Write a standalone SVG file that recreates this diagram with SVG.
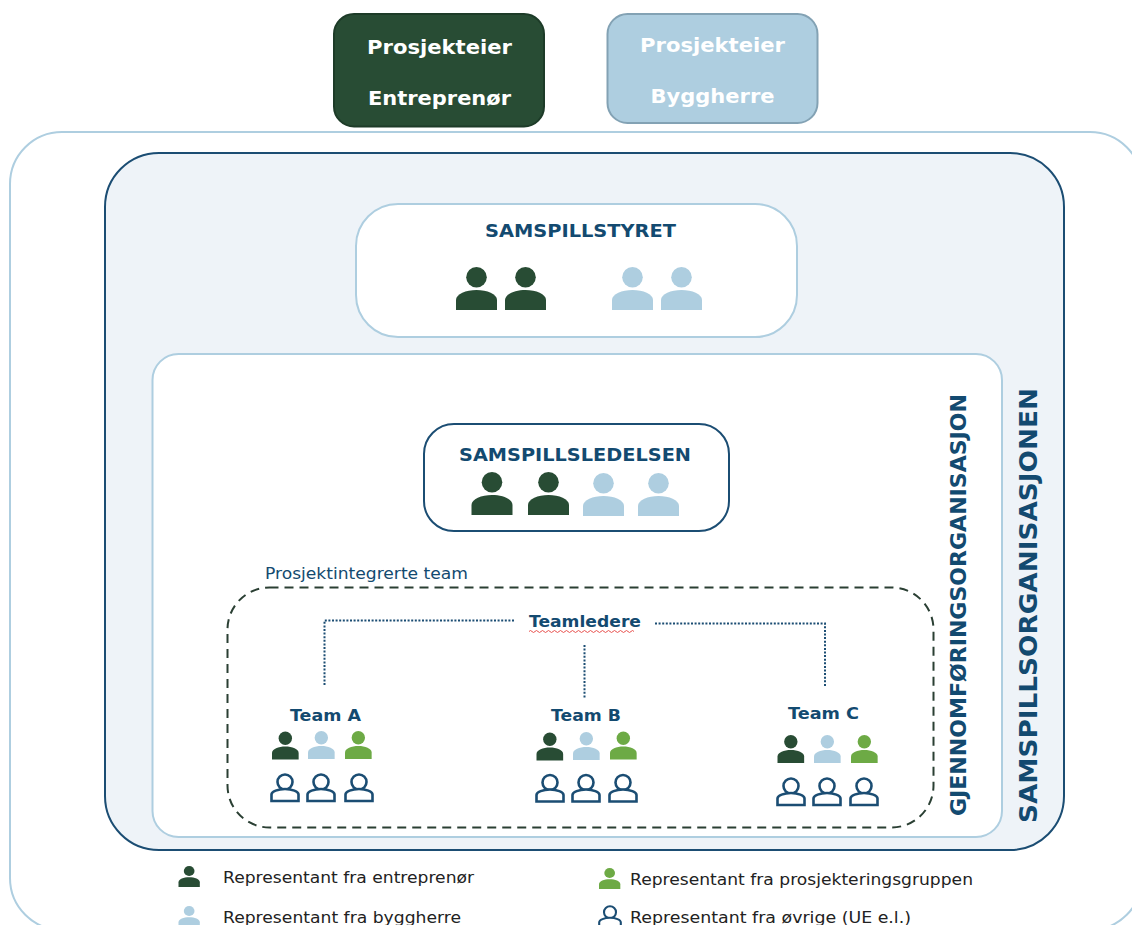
<svg xmlns="http://www.w3.org/2000/svg" width="1132" height="925" viewBox="0 0 1132 925">
<style>
text{font-family:"DejaVu Sans",Verdana,sans-serif}
.b{font-weight:700;fill:#134A70}
.w{font-weight:700;fill:#fff;font-size:20px;text-anchor:middle}
.l{font-size:15.5px;fill:#222}
.d{fill:#284C34}.a{fill:#AECEE0}.g{fill:#6DAA45}
.o{fill:#fff;stroke:#1B4D73;stroke-width:2.6}
.dot{fill:none;stroke:#1B4D73;stroke-width:2;stroke-dasharray:2 1.6}
</style>
<defs>
<g id="p"><circle cx="20.5" cy="10.3" r="10.3"/><path d="M0 43V33C0 27 10 23 20.5 23S41 27 41 33V43Z"/></g>
<g id="q"><circle cx="15" cy="9" r="7.5"/><path d="M1.500 28V21.500C1.500 18.500 8 16 15 16S28.500 18.500 28.500 21.500V28Z"/></g>
</defs>
<rect x="10" y="132" width="1132" height="798" rx="52" fill="#fff" stroke="#AECEE0" stroke-width="2"/>
<rect x="105" y="153" width="959" height="697" rx="54" fill="#EEF3F8" stroke="#1B4D73" stroke-width="2"/>
<g id="prosjekteier-entreprenor"><rect x="334" y="14" width="210" height="112.500" rx="20" fill="#284C34" stroke="#1D3B28" stroke-width="2"/>
<text class="w" x="439.500" y="54" textLength="145" lengthAdjust="spacingAndGlyphs">Prosjekteier</text><text class="w" x="439.500" y="105" textLength="143" lengthAdjust="spacingAndGlyphs">Entreprenør</text></g>
<g id="prosjekteier-byggherre"><rect x="607.500" y="14" width="210" height="109" rx="20" fill="#AECEE0" stroke="#83A2B4" stroke-width="2"/>
<text class="w" x="712.500" y="52" textLength="145" lengthAdjust="spacingAndGlyphs">Prosjekteier</text><text class="w" x="712.500" y="103" textLength="124" lengthAdjust="spacingAndGlyphs">Byggherre</text></g>
<g id="samspillstyret"><rect x="356" y="204" width="441" height="133" rx="42" fill="#fff" stroke="#AECEE0" stroke-width="2"/>
<text class="b" x="580.500" y="237" font-size="18.500" text-anchor="middle" textLength="191" lengthAdjust="spacingAndGlyphs">SAMSPILLSTYRET</text>
<use href="#p" class="d" x="456" y="267"/><use href="#p" class="d" x="505" y="267"/><use href="#p" class="a" x="612" y="267"/><use href="#p" class="a" x="661" y="267"/></g>
<g id="gjennomforing"><rect x="152.500" y="354" width="849.500" height="483" rx="26" fill="#fff" stroke="#AECEE0" stroke-width="2"/>
<text class="b" transform="translate(966 816) rotate(-90)" font-size="20.500" textLength="422" lengthAdjust="spacingAndGlyphs">GJENNOMFØRINGSORGANISASJON</text></g>
<text id="samspillsorganisasjonen" class="b" transform="translate(1037 823) rotate(-90)" font-size="25" textLength="435" lengthAdjust="spacingAndGlyphs">SAMSPILLSORGANISASJONEN</text>
<g id="samspillsledelsen"><rect x="424" y="424" width="305" height="107" rx="30" fill="#fff" stroke="#1B4D73" stroke-width="2"/>
<text class="b" x="575" y="461" font-size="18.500" text-anchor="middle" textLength="232" lengthAdjust="spacingAndGlyphs">SAMSPILLSLEDELSEN</text>
<use href="#p" class="d" x="471.500" y="472"/><use href="#p" class="d" x="528" y="472"/><use href="#p" class="a" x="583" y="473"/><use href="#p" class="a" x="638" y="473"/></g>
<g id="prosjektintegrerte-team"><rect x="227.500" y="587.500" width="706" height="240" rx="42" fill="none" stroke="#2A3F33" stroke-width="2" stroke-dasharray="9 6"/>
<text x="265" y="579" font-size="15.500" fill="#134A70" textLength="203" lengthAdjust="spacingAndGlyphs">Prosjektintegrerte team</text></g>
<g id="connectors"><path class="dot" d="M514 620.500H324.500V686"/><path class="dot" d="M655 623.500H825V687"/><path class="dot" d="M584.500 645V698"/></g>
<g id="teamledere"><text class="b" x="585" y="627" font-size="16.500" text-anchor="middle" textLength="112" lengthAdjust="spacingAndGlyphs">Teamledere</text>
<path d="M529 631.500q1.500-2 3-0t3 0 3 0 3 0 3 0 3 0 3 0 3 0 3 0 3 0 3 0 3 0 3 0 3 0 3 0 3 0 3 0 3 0 3 0 3 0 3 0 3 0 3 0 3 0 3 0 3 0 3 0 3 0 3 0 3 0 3 0 3 0 3 0 3 0 3 0" fill="none" stroke="#E8524F" stroke-width="1"/></g>
<g id="team-a"><text class="b" x="325.500" y="721" font-size="16" text-anchor="middle" textLength="71" lengthAdjust="spacingAndGlyphs">Team A</text>
<use href="#p" class="d" transform="translate(272 731.500) scale(.65)"/><use href="#p" class="a" transform="translate(308 731) scale(.65)"/><use href="#p" class="g" transform="translate(345 731) scale(.65)"/>
<use href="#q" class="o" x="270" y="773"/><use href="#q" class="o" x="306" y="773"/><use href="#q" class="o" x="344" y="773"/></g>
<g id="team-b"><text class="b" x="586" y="721" font-size="16" text-anchor="middle" textLength="70" lengthAdjust="spacingAndGlyphs">Team B</text>
<use href="#p" class="d" transform="translate(536.500 732.500) scale(.65)"/><use href="#p" class="a" transform="translate(573 732) scale(.65)"/><use href="#p" class="g" transform="translate(610 731.500) scale(.65)"/>
<use href="#q" class="o" x="535" y="773.500"/><use href="#q" class="o" x="571" y="773.500"/><use href="#q" class="o" x="608" y="773.500"/></g>
<g id="team-c"><text class="b" x="823.500" y="719" font-size="16" text-anchor="middle" textLength="71" lengthAdjust="spacingAndGlyphs">Team C</text>
<use href="#p" class="d" transform="translate(777.500 735) scale(.65)"/><use href="#p" class="a" transform="translate(814 735) scale(.65)"/><use href="#p" class="g" transform="translate(851 735) scale(.65)"/>
<use href="#q" class="o" x="776" y="777"/><use href="#q" class="o" x="812" y="777"/><use href="#q" class="o" x="849" y="777"/></g>
<g id="legend">
<use href="#p" class="d" transform="translate(178.500 866) scale(.52 .49)"/><text class="l" x="223" y="883" textLength="251" lengthAdjust="spacingAndGlyphs">Representant fra entreprenør</text>
<use href="#p" class="g" transform="translate(599 868) scale(.52 .49)"/><text class="l" x="630" y="885" textLength="343" lengthAdjust="spacingAndGlyphs">Representant fra prosjekteringsgruppen</text>
<use href="#p" class="a" transform="translate(178.500 906) scale(.52 .49)"/><text class="l" x="223" y="923" textLength="238" lengthAdjust="spacingAndGlyphs">Representant fra byggherre</text>
<use href="#q" class="o" transform="translate(598 905) scale(.8)"/><text class="l" x="630" y="923" textLength="281" lengthAdjust="spacingAndGlyphs">Representant fra øvrige (UE e.l.)</text>
</g>
</svg>
